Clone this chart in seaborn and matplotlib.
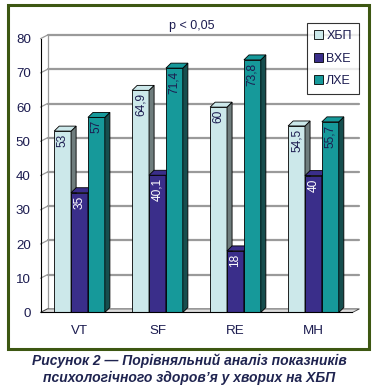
import matplotlib
matplotlib.use("Agg")
import matplotlib.pyplot as plt
import seaborn as sns
import pandas as pd
from matplotlib.patches import Polygon, Rectangle, Patch

# === DATA ===
scales = ["VT", "SF", "RE", "MH"]
groups = ["ХБП", "ВХЕ", "ЛХЕ"]
vals_hbp = [53, 64.9, 60, 54.5]
vals_vhe = [35, 40.1, 18, 40]
vals_lhe = [57, 71.4, 73.8, 55.7]
yticks = [0, 10, 20, 30, 40, 50, 60, 70, 80]
p_text = "p < 0,05"
caption = ["Рисунок 2 — Порівняльний аналіз показників",
           "психологічного здоров’я у хворих на ХБП"]

# === STYLE ===
front = ["#cce8ea", "#3a2e8a", "#16999a"]
side = ["#6f7d7d", "#1e1850", "#164e4e"]
label_col = ["#1c1c50", "white", "#1c1c50"]
text_col = "#1c1c50"
grid_col = "#9a9a9a"
bar_dx, bar_dy = 0.065, 1.45     # 3D depth of bars (x units, y units)
wall_dx, wall_dy = 0.09, 1.05    # depth of back wall

sns.set_style("white")
plt.rcParams["font.family"] = ["Liberation Sans", "DejaVu Sans"]

df = pd.DataFrame({
    "scale": scales * 3,
    "group": [g for g in groups for _ in scales],
    "value": vals_hbp + vals_vhe + vals_lhe,
})

fig = plt.figure(figsize=(3.74, 3.89), dpi=100)
ax = fig.add_axes([0.1083, 0.1967, 0.834, 0.7039])

sns.barplot(data=df, x="scale", y="value", hue="group", order=scales,
            hue_order=groups, palette=front, saturation=1, width=0.65,
            edgecolor="black", linewidth=0.6, legend=False, ax=ax)

ax.set_xlim(-0.5, len(scales) - 0.5)
ax.set_ylim(0, 80)
x0, x1 = ax.get_xlim()

# back wall grid, left wall and floor
for v in yticks[1:]:
    ax.plot([x0 + wall_dx, x1 + wall_dx], [v + wall_dy, v + wall_dy],
            color=grid_col, lw=1.6, zorder=1, clip_on=False)
for v in yticks:
    ax.plot([x0, x0 + wall_dx], [v, v + wall_dy], color=grid_col, lw=0.9,
            zorder=1, clip_on=False)
ax.plot([x0 + wall_dx, x0 + wall_dx], [wall_dy, 80 + wall_dy], color=grid_col,
        lw=0.9, zorder=1, clip_on=False)
ax.add_patch(Polygon([(x0, 0), (x1, 0), (x1 + wall_dx, wall_dy), (x0 + wall_dx, wall_dy)],
                     closed=True, facecolor="#dcdcdc", edgecolor="#404040",
                     lw=0.6, zorder=1.5, clip_on=False))

# 3D faces + value labels
for i, cont in enumerate(ax.containers):
    for bar in cont:
        bar.set_zorder(3 + 2 * i)
        bx0 = bar.get_x()
        bx1 = bx0 + bar.get_width()
        h = bar.get_height()
        ax.add_patch(Polygon([(bx1, 0), (bx1 + bar_dx, bar_dy), (bx1 + bar_dx, h + bar_dy), (bx1, h)],
                             closed=True, facecolor=side[i], edgecolor="black",
                             lw=0.6, zorder=3 + 2 * i, clip_on=False))
        ax.add_patch(Polygon([(bx0, h), (bx0 + bar_dx, h + bar_dy), (bx1 + bar_dx, h + bar_dy), (bx1, h)],
                             closed=True, facecolor=front[i], edgecolor="black",
                             lw=0.6, zorder=3 + 2 * i, clip_on=False))
        lab = f"{h:g}".replace(".", ",")
        ax.annotate(lab, (bx0 + bar.get_width() / 2, h), xytext=(0, -2),
                    textcoords="offset points", rotation=90, ha="center",
                    va="top", fontsize=8.6, color=label_col[i], zorder=20)

# axes
sns.despine(ax=ax, top=True, right=True)
ax.spines["left"].set_color("black")
ax.spines["bottom"].set_color("black")
ax.spines["left"].set_linewidth(0.8)
ax.spines["bottom"].set_linewidth(0.8)
ax.spines["bottom"].set_zorder(30)
ax.set_yticks(yticks)
ax.set_yticklabels([str(t) for t in yticks], color=text_col, fontsize=9.6)
ax.set_xticks(range(len(scales)))
ax.set_xticklabels(scales, color=text_col, fontsize=9.6)
ax.set_xticks([x0 + k for k in range(len(scales) + 1)], minor=True)
ax.tick_params(axis="x", which="major", length=0, pad=9)
ax.tick_params(axis="x", which="minor", length=4, width=0.8, color="black", direction="out")
ax.tick_params(axis="y", length=4, width=0.8, color="black", direction="out", pad=3)
ax.set_xlabel("")
ax.set_ylabel("")
ax.patch.set_alpha(0)

fig.text(192 / 374, 1 - 26 / 389, p_text, ha="center", va="center",
         fontsize=9, color=text_col)

handles = [Patch(facecolor=c, edgecolor="black", lw=0.6) for c in front]
leg = fig.legend(handles, groups, loc="upper left", bbox_to_anchor=(307 / 374, 1 - 23 / 389),
                 borderaxespad=0, frameon=True, fancybox=False, handlelength=0.7,
                 handleheight=0.7, handletextpad=0.3, labelspacing=0.85,
                 borderpad=0.55, fontsize=9, labelcolor=text_col)
leg.get_frame().set_edgecolor("black")
leg.get_frame().set_linewidth(0.8)

fig.patches.append(Rectangle((7.5 / 374, 1 - 349 / 389), (369 - 7.5) / 374, (349 - 4.5) / 389,
                             transform=fig.transFigure, fill=False,
                             edgecolor="#3d5712", lw=2.2))

for k, line in enumerate(caption):
    fig.text(189.5 / 374, 1 - (361 + 17 * k) / 389, line, ha="center", va="center",
             fontsize=10, fontweight="bold", style="italic", color="#1f2450")

fig.savefig("out.png", dpi=100)
